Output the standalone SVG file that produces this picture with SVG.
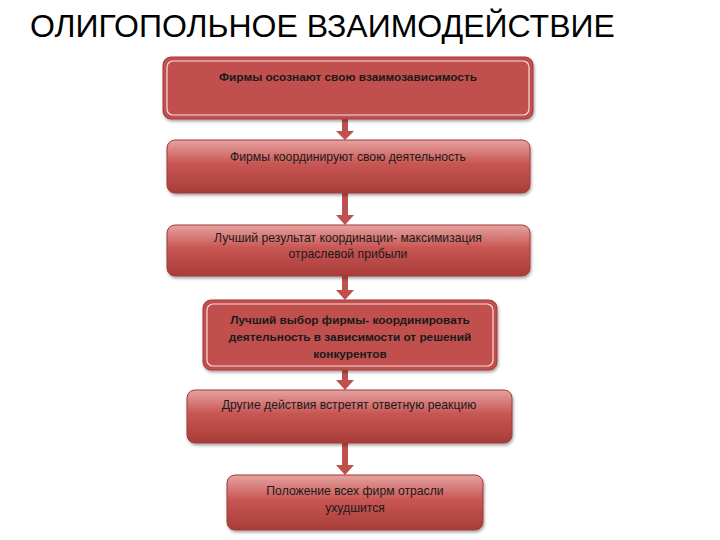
<svg xmlns="http://www.w3.org/2000/svg" width="720" height="540" viewBox="0 0 720 540">
<style>
.t{font-family:"Liberation Sans",Arial,sans-serif;font-size:12.2px;fill:#1a1a1a;text-anchor:middle}
.b{font-weight:bold;font-size:11.8px}
.box{stroke:#a23a3a;stroke-width:1}
.solid{fill:#c0504d}
.grad{fill:url(#g)}
.inner{fill:none;stroke:#f4dede;stroke-width:1.2}
.arr{fill:#c0504d}
</style>
<defs>
<linearGradient id="g" x1="0" y1="0" x2="0" y2="1">
<stop offset="0" stop-color="#e5a3a1"/>
<stop offset="0.45" stop-color="#c85653"/>
<stop offset="1" stop-color="#a83c39"/>
</linearGradient>
<filter id="sh" x="-5%" y="-10%" width="110%" height="130%"><feDropShadow dx="1" dy="2" stdDeviation="1.5" flood-color="#000" flood-opacity="0.35"/></filter>
</defs>
<rect width="720" height="540" fill="#fff"/>
<text x="30" y="37" style="font-family:'Liberation Sans',Arial,sans-serif;font-size:32px;fill:#000">ОЛИГОПОЛЬНОЕ ВЗАИМОДЕЙСТВИЕ</text>
<g id="connectors">
<path class="arr" d="M342 119h6v12h6l-9 9l-9-9h6z"/>
<path class="arr" d="M342 193h6v22h6l-9 10l-9-10h6z"/>
<path class="arr" d="M342 276h6v14h6l-9 10l-9-10h6z"/>
<path class="arr" d="M342 370h6v10h6l-9 10l-9-10h6z"/>
<path class="arr" d="M342 443h6v22h6l-9 10l-9-10h6z"/>
</g>
<g id="n1"><rect class="box solid" x="163" y="57" width="370" height="62" rx="8" filter="url(#sh)"/><rect class="inner" x="167" y="61" width="362" height="54" rx="6"/><text class="t b" x="348" y="81">Фирмы осознают свою взаимозависимость</text></g>
<g id="n2"><rect class="box grad" x="167" y="140" width="363" height="53" rx="8" filter="url(#sh)"/><text class="t" x="348" y="161">Фирмы координируют свою деятельность</text></g>
<g id="n3"><rect class="box grad" x="167" y="225" width="363" height="51" rx="8" filter="url(#sh)"/><text class="t" x="348" y="242">Лучший результат координации- максимизация</text><text class="t" x="348" y="258">отраслевой прибыли</text></g>
<g id="n4"><rect class="box solid" x="203" y="300" width="294" height="70" rx="8" filter="url(#sh)"/><rect class="inner" x="207" y="304" width="286" height="62" rx="6"/><text class="t b" x="350" y="324">Лучший выбор фирмы- координировать</text><text class="t b" x="350" y="341">деятельность в зависимости от решений</text><text class="t b" x="350" y="358">конкурентов</text></g>
<g id="n5"><rect class="box grad" x="187" y="390" width="325" height="53" rx="8" filter="url(#sh)"/><text class="t" x="349" y="409">Другие действия встретят ответную реакцию</text></g>
<g id="n6"><rect class="box grad" x="227" y="475" width="256" height="55" rx="8" filter="url(#sh)"/><text class="t" x="355" y="495">Положение всех фирм отрасли</text><text class="t" x="355" y="512">ухудшится</text></g>
</svg>
